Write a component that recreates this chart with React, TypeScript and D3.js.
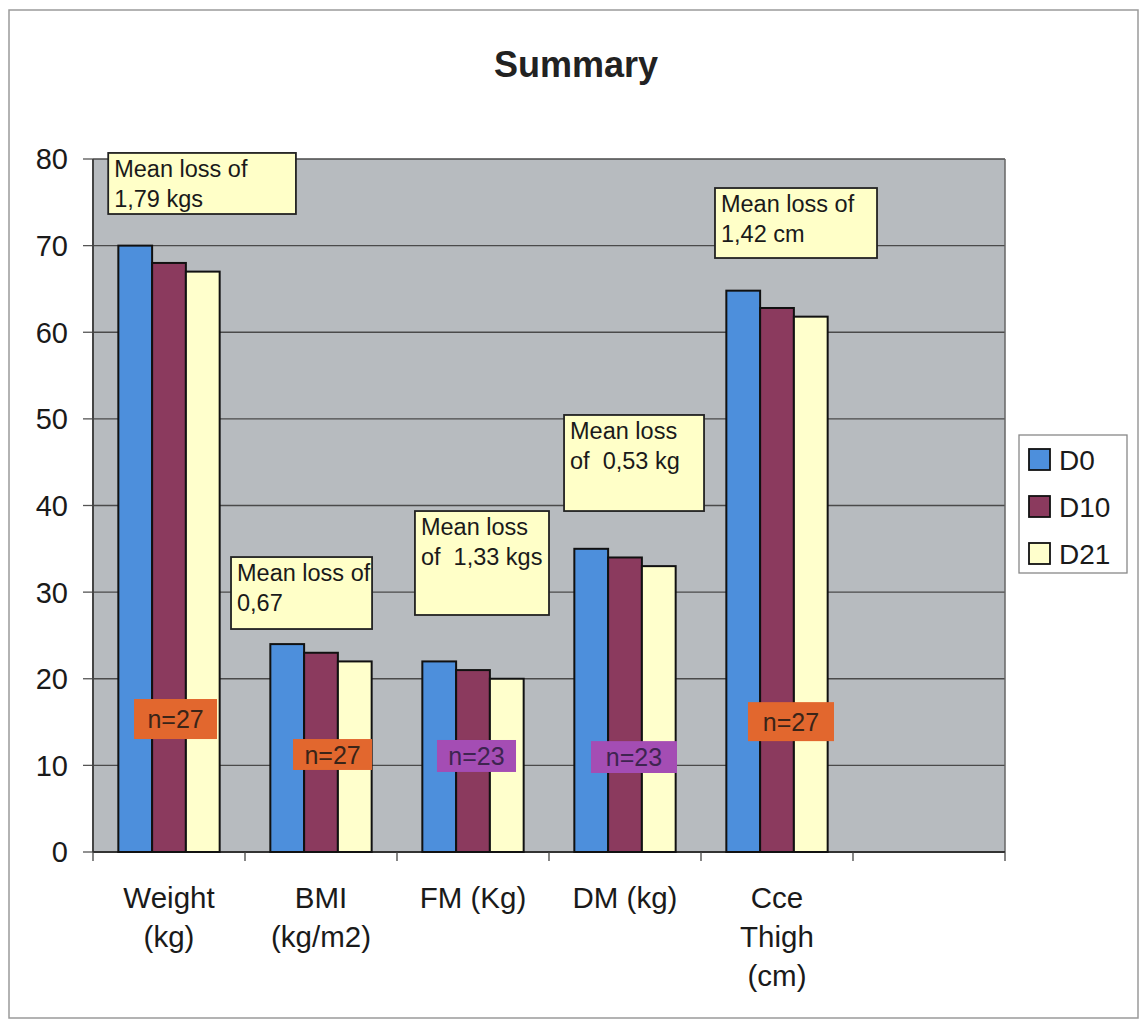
import React from "react";
import * as d3 from "d3";

const categories: string[][] = [
  ["Weight", "(kg)"],
  ["BMI", "(kg/m2)"],
  ["FM (Kg)"],
  ["DM (kg)"],
  ["Cce", "Thigh", "(cm)"],
];
const slotCount = 6;
const seriesNames = ["D0", "D10", "D21"];
const d0 = [70, 24, 22, 35, 64.8];
const d10 = [68, 23, 21, 34, 62.8];
const d21 = [67, 22, 20, 33, 61.8];
const yTicks = [0, 10, 20, 30, 40, 50, 60, 70, 80];
const seriesColors = ["#4d8fdc", "#8b3a5e", "#ffffcc"];

// annotation boxes: x in category-slot units, y in data units
const notes = [
  { lines: ["Mean loss of", "1,79 kgs"], x0: 0.1, x1: 1.335, yTop: 80.7, yBot: 73.65 },
  { lines: ["Mean loss of", "0,67"], x0: 0.908, x1: 1.836, yTop: 34.05, yBot: 25.74 },
  { lines: ["Mean loss", "of  1,33 kgs"], x0: 2.118, x1: 3.0, yTop: 39.36, yBot: 27.36 },
  { lines: ["Mean loss", "of  0,53 kg"], x0: 3.099, x1: 4.02, yTop: 50.45, yBot: 39.36 },
  { lines: ["Mean loss of", "1,42 cm"], x0: 4.092, x1: 5.158, yTop: 76.65, yBot: 68.57 },
];
const nLabels = [
  { text: "n=27", x0: 0.27, x1: 0.816, yTop: 17.66, yBot: 13.04, kind: "o" },
  { text: "n=27", x0: 1.316, x1: 1.836, yTop: 13.04, yBot: 9.47, kind: "o" },
  { text: "n=23", x0: 2.263, x1: 2.783, yTop: 12.93, yBot: 9.24, kind: "p" },
  { text: "n=23", x0: 3.276, x1: 3.842, yTop: 12.8, yBot: 9.12, kind: "p" },
  { text: "n=27", x0: 4.309, x1: 4.875, yTop: 17.3, yBot: 12.8, kind: "o" },
];

const FONT = "'Liberation Sans', Arial, Helvetica, sans-serif";

export default function App() {
  const W = 1143, H = 1020;
  const left = 93, right = 1005, top = 159, bottom = 852;
  const slots = d3.range(slotCount).map(String);
  const x0 = d3.scaleBand<string>().domain(slots).range([left, right]).padding(0);
  const step = x0.step();
  const x1 = d3.scaleBand<string>().domain(seriesNames).range([0, step]).paddingInner(0).paddingOuter(0.75);
  const y = d3.scaleLinear().domain([0, 80]).range([bottom, top]);
  const xs = d3.scaleLinear().domain([0, slotCount]).range([left, right]);
  const series = [d0, d10, d21];

  return (
    <div style={{ position: "absolute", left: 0, top: 0 }}>
      <svg width={W} height={H} style={{ display: "block", background: "#fff" }} fontFamily={FONT}>
        <rect x={9} y={10} width={1129} height={1008} fill="none" stroke="#9a9a9a" strokeWidth={1.5} />
        <text x={576} y={77} textAnchor="middle" fontSize={36} fontWeight="bold" fill="#222">Summary</text>

        {/* plot area */}
        <rect x={left} y={top} width={right - left} height={bottom - top} fill="#b7bbbf" />
        {yTicks.map((t) => (
          <g key={t}>
            <line x1={left} x2={right} y1={y(t)} y2={y(t)} stroke="#4a4a4a" strokeWidth={1.3} />
            <line x1={83} x2={left} y1={y(t)} y2={y(t)} stroke="#555" strokeWidth={1.3} />
            <text x={68} y={y(t)} dy="0.36em" textAnchor="end" fontSize={29} fill="#1a1a1a">{t}</text>
          </g>
        ))}
        <line x1={left} x2={left} y1={top} y2={bottom} stroke="#444" strokeWidth={2} />
        <line x1={right} x2={right} y1={top} y2={bottom} stroke="#666" strokeWidth={1.5} />
        <line x1={left} x2={right} y1={bottom} y2={bottom} stroke="#333" strokeWidth={2} />
        {d3.range(slotCount + 1).map((i) => (
          <line key={i} x1={xs(i)} x2={xs(i)} y1={bottom} y2={bottom + 9} stroke="#444" strokeWidth={1.3} />
        ))}

        {/* bars */}
        {categories.map((c, ci) => (
          <g key={ci} transform={`translate(${x0(String(ci))},0)`}>
            {series.map((s, si) => (
              <rect
                key={si}
                x={x1(seriesNames[si])}
                y={y(s[ci])}
                width={x1.bandwidth()}
                height={y(0) - y(s[ci])}
                fill={seriesColors[si]}
                stroke="#111"
                strokeWidth={2}
              />
            ))}
          </g>
        ))}

        {/* category labels */}
        {categories.map((c, ci) => (
          <text key={ci} x={(x0(String(ci)) as number) + step / 2} y={908} textAnchor="middle" fontSize={29.5} fill="#1a1a1a">
            {c.map((l, li) => (
              <tspan key={li} x={(x0(String(ci)) as number) + step / 2} dy={li === 0 ? 0 : 39}>{l}</tspan>
            ))}
          </text>
        ))}

        {/* annotation boxes */}
        {notes.map((n, i) => (
          <g key={i}>
            <rect x={xs(n.x0)} y={y(n.yTop)} width={xs(n.x1) - xs(n.x0)} height={y(n.yBot) - y(n.yTop)} fill="#ffffc8" stroke="#222" strokeWidth={1.8} />
            {n.lines.map((l, li) => (
              <text key={li} x={xs(n.x0) + 6} y={y(n.yTop) + 24 + li * 30} fontSize={23.5} fill="#1a1a1a" style={{ whiteSpace: "pre" }}>{l}</text>
            ))}
          </g>
        ))}

        {/* n labels */}
        {nLabels.map((n, i) => (
          <g key={i}>
            <rect x={xs(n.x0)} y={y(n.yTop)} width={xs(n.x1) - xs(n.x0)} height={y(n.yBot) - y(n.yTop)} fill={n.kind === "o" ? "#e2672e" : "#a44db4"} />
            <text x={(xs(n.x0) + xs(n.x1)) / 2} y={(y(n.yTop) + y(n.yBot)) / 2} dy="0.36em" textAnchor="middle" fontSize={25} fill={n.kind === "o" ? "#3a2418" : "#3e2450"}>{n.text}</text>
          </g>
        ))}

        {/* legend */}
        <rect x={1019} y={435} width={108} height={138} fill="#fff" stroke="#888" strokeWidth={1.3} />
        {seriesNames.map((s, i) => (
          <g key={s} transform={`translate(1029,${449 + i * 47})`}>
            <rect x={0} y={0} width={21} height={21} fill={seriesColors[i]} stroke="#111" strokeWidth={1.8} />
            <text x={30} y={10.5} dy="0.36em" fontSize={28} fill="#1a1a1a">{s}</text>
          </g>
        ))}
      </svg>
    </div>
  );
}
